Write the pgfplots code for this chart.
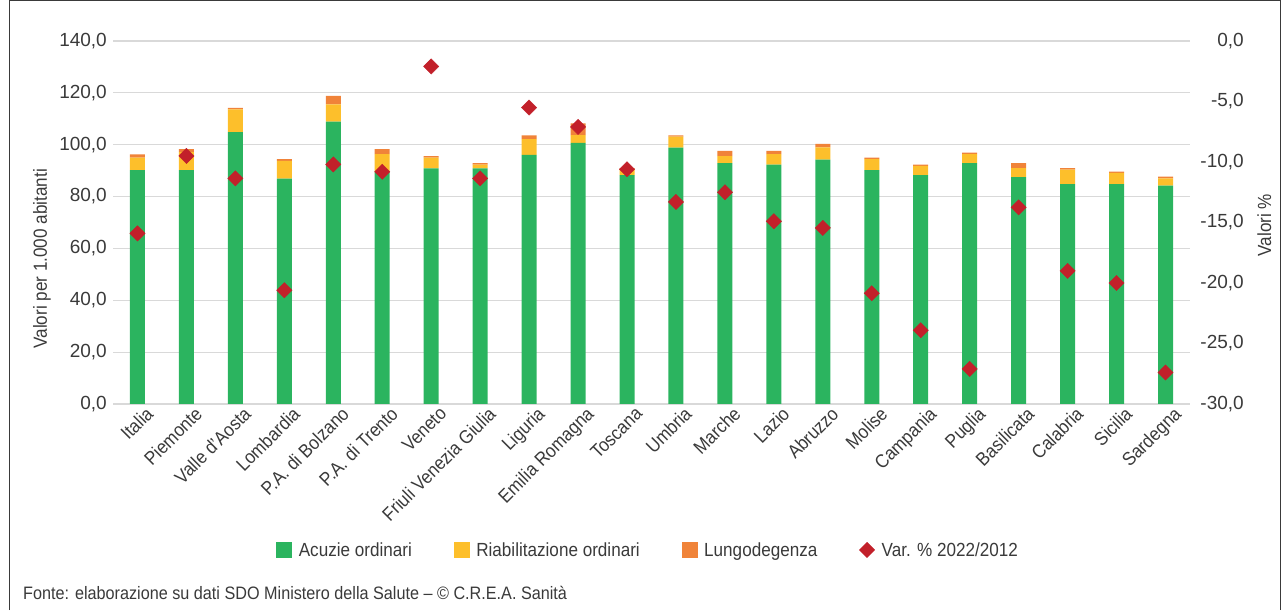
\documentclass[border=0pt]{standalone}
\usepackage{fontspec}
\setmainfont{Liberation Sans}[FakeStretch=0.9]
\newfontfamily\numfont{Liberation Sans}
\usepackage{pgfplots}
\usepackage{pgfplotstable}
\pgfplotsset{compat=1.18}
\definecolor{cgreen}{HTML}{2BB45F}
\definecolor{cyellow}{HTML}{FDBF2B}
\definecolor{corange}{HTML}{F08339}
\definecolor{cred}{HTML}{C2202A}
\definecolor{gridc}{HTML}{D9D9D9}
\definecolor{txt}{HTML}{3A3A3A}
\newcommand\fs{\fontsize{19}{22}\selectfont}

\pgfplotstableread{
x a r l v
0 90.2 4.8 1.3 -15.9
1 90.2 6.9 1.2 -9.5
2 104.9 8.7 0.6 -11.35
3 86.9 6.9 0.6 -20.6
4 108.9 6.7 3.2 -10.2
5 89.6 6.8 1.9 -10.8
6 90.9 4.1 0.6 -2.1
7 90.9 1.4 0.6 -11.35
8 96.1 6.1 1.4 -5.5
9 100.7 3.0 4.5 -7.1
10 88.3 1.9 0.8 -10.6
11 98.9 4.2 0.5 -13.3
12 92.9 2.7 2.0 -12.5
13 92.3 4.1 1.2 -14.9
14 94.2 4.8 1.3 -15.45
15 90.2 4.2 0.6 -20.85
16 88.3 3.5 0.5 -23.9
17 92.9 3.5 0.5 -27.1
18 87.5 3.5 1.9 -13.75
19 84.8 5.6 0.6 -19.0
20 84.8 4.3 0.5 -20.0
21 84.2 2.8 0.7 -27.4
}\data

\begin{document}
\begin{tikzpicture}[x=1pt,y=1pt]
\path[use as bounding box] (0,0) rectangle (1281,610);
\draw[line width=1pt, color=txt] (9.5,0) -- (9.5,609.5) -- (1280.5,609.5) -- (1280.5,0);

\begin{axis}[
  at={(113pt,206pt)}, anchor=south west,
  scale only axis, width=1077pt, height=363pt,
  ybar stacked, bar width=15pt,
  xmin=-0.5, xmax=21.5,
  ymin=0, ymax=140, ytick={0,20,...,140},
  xtick={0,...,21},
  xticklabels={Italia, Piemonte, Valle d'Aosta, Lombardia, P.A. di Bolzano, P.A. di Trento, Veneto, Friuli Venezia Giulia, Liguria, Emilia Romagna, Toscana, Umbria, Marche, Lazio, Abruzzo, Molise, Campania, Puglia, Basilicata, Calabria, Sicilia, Sardegna},
  axis line style={draw=none}, tick style={draw=none},
  ymajorgrids, grid style={line width=1.2pt, color=gridc},
  yticklabel style={font=\numfont\fs, color=txt, inner sep=0pt, xshift=-6pt,
    /pgf/number format/.cd, fixed, fixed zerofill, precision=1, use comma, assume math mode=true},
  xticklabel style={font=\fs, color=txt, rotate=45, anchor=north east, inner sep=0pt, xshift=4pt, yshift=-6pt},
  every axis y label/.style={at={(axis description cs:-0.066,0.4)}, rotate=90, anchor=center, font=\fs, color=txt},
  ylabel={Valori per 1.000 abitanti},
]
\addplot[fill=cgreen, draw=none] table[x=x, y=a]{\data};
\addplot[fill=cyellow, draw=none] table[x=x, y=r]{\data};
\addplot[fill=corange, draw=none] table[x=x, y=l]{\data};
\end{axis}

\begin{axis}[
  at={(113pt,206pt)}, anchor=south west,
  scale only axis, width=1077pt, height=363pt,
  xmin=-0.5, xmax=21.5,
  ymin=-30, ymax=0, ytick={-30,-25,...,0},
  axis y line*=right, axis x line=none,
  axis line style={draw=none}, tick style={draw=none},
  yticklabel style={font=\numfont\fs, color=txt, anchor=east, inner sep=0pt, xshift=54pt,
    /pgf/number format/.cd, fixed, fixed zerofill, precision=1, use comma, assume math mode=true},
  every axis y label/.style={at={(axis description cs:1.069,0.493)}, rotate=90, anchor=center, font=\fs, color=txt},
  ylabel={Valori \%},
  legend columns=4,
  legend cell align=left,
  legend style={at={(axis description cs:0.496,-0.402)}, anchor=center, draw=none, fill=none,
    font=\fs, text=txt, nodes={inner sep=0pt},
    /tikz/every odd column/.append style={column sep=7pt},
    /tikz/every even column/.append style={column sep=42pt}},
]
\addlegendimage{legend image code/.code={\fill[cgreen] (0pt,-7.5pt) rectangle (15pt,7.5pt);}}
\addlegendentry{Acuzie ordinari}
\addlegendimage{legend image code/.code={\fill[cyellow] (0pt,-7.5pt) rectangle (15pt,7.5pt);}}
\addlegendentry{Riabilitazione ordinari}
\addlegendimage{legend image code/.code={\fill[corange] (0pt,-7.5pt) rectangle (15pt,7.5pt);}}
\addlegendentry{Lungodegenza}
\addplot[only marks, color=cred, mark=square*, mark size=5.4pt, mark options={rotate=45, fill=cred, draw=none}] table[x=x, y=v]{\data};
\addlegendentry{Var. \% 2022/2012}
\end{axis}

\node[anchor=base west, inner sep=0pt, font=\fontsize{18}{21}\selectfont, color=txt] at (23,11) {Fonte: elaborazione su dati SDO Ministero della Salute – © C.R.E.A. Sanità};
\end{tikzpicture}
\end{document}
